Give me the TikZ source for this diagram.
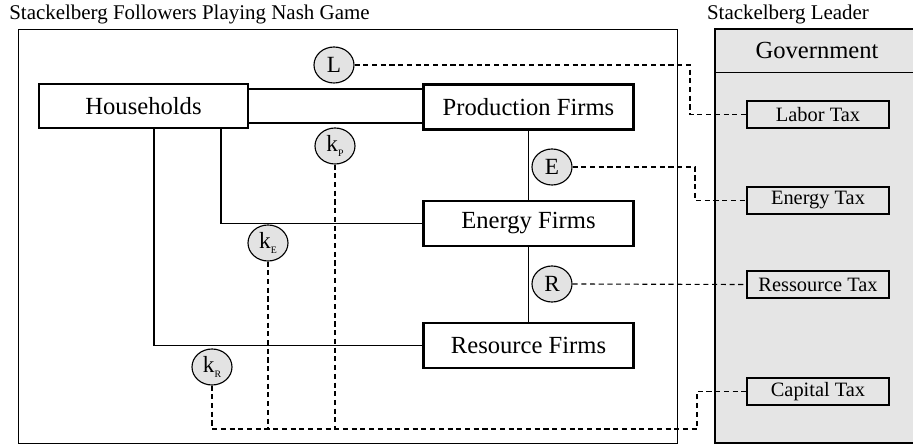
\documentclass[tikz,border=0pt]{standalone}
\usepackage{fontspec}
\setmainfont{Liberation Serif}
\usetikzlibrary{positioning,shapes,calc}

\begin{document}
\begin{tikzpicture}[
    x=0.025cm, y=-0.025cm,
    agent/.style={
        draw,
        line width=1.5pt,
        align=center,
        inner sep=0pt,
        minimum width=5.25cm,
        minimum height=1.125cm,
        font=\fontsize{17.5}{20}\selectfont
    },
    tax/.style={
        draw,
        line width=0.8pt,
        fill=gray!20,
        inner sep=0pt,
        minimum width=3.55cm,
        minimum height=0.675cm,
        font=\fontsize{14.5}{17}\selectfont
    },
    flow/.style={
        draw,
        ellipse,
        line width=0.8pt,
        fill=gray!22,
        inner sep=0pt,
        minimum width=1.0cm,
        minimum height=0.9cm,
        font=\fontsize{16.5}{18}\selectfont
    },
    link/.style={draw, line width=1.2pt},
    taxlink/.style={draw, line width=0.8pt, dash pattern=on 3.6pt off 2.6pt}
]
\useasboundingbox (0,0) rectangle (913,445);
% Titles
\node[anchor=west, inner sep=0pt, font=\fontsize{14.9}{17}\selectfont] (followTitle) at (9,14) {Stackelberg Followers Playing Nash Game};
\node[inner sep=0pt, font=\fontsize{14.9}{17}\selectfont] (leadTitle) at (788,14) {Stackelberg Leader};
% Followers frame
\draw[line width=0.7pt] (18,29) rectangle (677,443);
% Government panel (open to the right)
\fill[gray!20] (715,29) rectangle (913,443);
\draw[line width=1.5pt] (913,29) -- (715,29) -- (715,443) -- (913,443);
\draw[line width=0.7pt] (715,72) -- (913,72);
\node[inner sep=0pt, font=\fontsize{17.5}{20}\selectfont] (gov) at (817,50) {Government};
% Agents
\node[agent, minimum width=5.225cm, minimum height=1.1cm] (hh) at (143.5,106) {Households};
\node[agent] (prod) at (528.5,107) {Production Firms};
\node[agent] (enrg) at (528.5,223.5) {Energy Firms};
\node[agent] (res)  at (528.5,345.5) {Resource Firms};
% Tax instruments
\node[tax] (labor)   at (818,114.5) {Labor Tax};
\node[tax] (energy)  at (818,200.5) {Energy Tax};
\node[tax] (ress)    at (818,284.5) {Ressource Tax};
\node[tax] (capital) at (818,391.5) {Capital Tax};
% Market flows
\node[flow] (L)  at (334,65)  {L};
\node[flow] (kP) at (335,146) {k\raisebox{-0.4ex}{\fontsize{7}{8}\selectfont P}};
\node[flow] (E)  at (552,167) {E};
\node[flow] (kE) at (268,243) {k\raisebox{-0.4ex}{\fontsize{7}{8}\selectfont E}};
\node[flow] (R)  at (552,284) {R};
\node[flow] (kR) at (212,367) {k\raisebox{-0.4ex}{\fontsize{7}{8}\selectfont R}};
% Households to firms
\coordinate (hhA) at ($(hh.north east)+(0,6)$);
\coordinate (hhB) at ($(hh.south east)+(0,-6)$);
\coordinate (hhE) at ($(hh.south west)+(183,0)$);
\coordinate (hhR) at ($(hh.south west)+(116,0)$);
\draw[link] (hhA) -- (hhA -| prod.west);
\draw[link] (hhB) -- (hhB -| prod.west);
\draw[link] (hhE) |- (enrg.west);
\draw[link] (hhR) |- (res.west);
% Firm chain
\draw[link] (prod.south) -- (enrg.north);
\draw[link] (enrg.south) -- (res.north);
% Flows to taxes
\coordinate (lbend) at (690,90);
\coordinate (ebend) at (695,180);
\coordinate (cbend) at (697,429);
\draw[taxlink] (L.east) -| (lbend) |- (labor.west);
\draw[taxlink] (E.east) -| (ebend) |- (energy.west);
\draw[taxlink] (R.east) -- (ress.west);
\draw[taxlink] (kR.south) |- (cbend) |- (capital.west);
\draw[taxlink] (kE.south) -- (kE.south |- cbend);
\draw[taxlink] (kP.south) -- (kP.south |- cbend);
\end{tikzpicture}
\end{document}
